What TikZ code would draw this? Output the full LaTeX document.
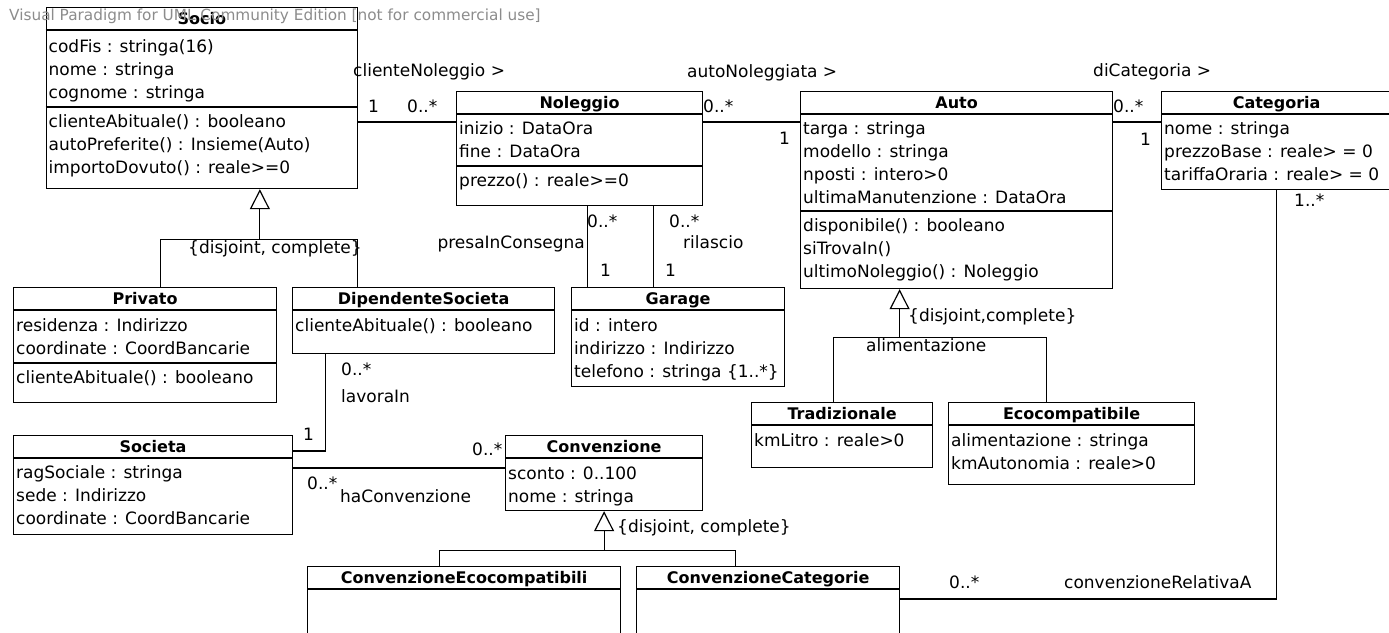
\documentclass[tikz,border=0pt]{standalone}
\usepackage{fontspec}
\setmainfont{DejaVu Sans}
\usetikzlibrary{arrows.meta,calc}

\tikzset{
  linea/.style={line width=1.2pt},
  scatola/.style={draw, linea, fill=white, anchor=north west, inner sep=0pt},
  titolo/.style={anchor=base, inner sep=0pt, font=\fontsize{16}{18}\selectfont\bfseries},
  voce/.style={anchor=base west, inner sep=0pt, font=\fontsize{17}{20}\selectfont},
  eredita/.style={-{Triangle[open,length=20pt,width=20pt]}},
}

% classe: nome, x, y, larghezza, altezza, titolo
\newcommand{\classe}[6]{%
  \node[scatola, minimum width=#4pt, minimum height=#5pt] (#1) at (#2,#3) {};
  \node[titolo] (#1-titolo) at ($(#1.north)+(0,17)$) {#6};
  \draw[linea] ($(#1.north west)+(0,23)$) -- ($(#1.north east)+(0,23)$);
}
% separatore tra attributi e operazioni
\newcommand{\separa}[2]{%
  \draw[linea] ($(#1.north west)+(0,#2)$) -- ($(#1.north east)+(0,#2)$);
}
% righe di testo: nodo, prefisso, prima linea di base, lista
\newcommand{\voci}[4]{%
  \foreach \testo [count=\i from 0] in {#4}
    \node[voce] (#1-#2\i) at ($(#1.north west)+(3,#3+23*\i)$) {\testo};
}

\begin{document}
\begin{tikzpicture}[x=1pt, y=-1pt]
\useasboundingbox (0,0) rectangle (1389,632);

% Socio
\classe{Socio}{45.5}{7}{311.5}{181}{Socio}
\voci{Socio}{a}{45}{codFis : stringa(16), nome : stringa, cognome : stringa}
\separa{Socio}{100}
\voci{Socio}{o}{120}{clienteAbituale() : booleano, autoPreferite() : Insieme(Auto), importoDovuto() : reale>=0}

% Noleggio
\classe{Noleggio}{456}{91}{246}{114}{Noleggio}
\voci{Noleggio}{a}{43}{inizio : DataOra, fine : DataOra}
\separa{Noleggio}{75}
\voci{Noleggio}{o}{95}{prezzo() : reale>=0}

% Auto
\classe{Auto}{800}{91}{312}{197}{Auto}
\voci{Auto}{a}{43}{targa : stringa, modello : stringa, nposti : intero>0, ultimaManutenzione : DataOra}
\separa{Auto}{120}
\voci{Auto}{o}{140}{disponibile() : booleano, siTrovaIn(), ultimoNoleggio() : Noleggio}

% Categoria
\classe{Categoria}{1161}{91}{230}{98}{Categoria}
\voci{Categoria}{a}{43}{nome : stringa, prezzoBase : reale> = 0, tariffaOraria : reale> = 0}

% Privato e DipendenteSocieta
\classe{Privato}{13}{287}{263}{115}{Privato}
\voci{Privato}{a}{44}{residenza : Indirizzo, coordinate : CoordBancarie}
\separa{Privato}{76}
\voci{Privato}{o}{96}{clienteAbituale() : booleano}
\classe{DipendenteSocieta}{292}{287}{262}{66}{DipendenteSocieta}
\voci{DipendenteSocieta}{o}{44}{clienteAbituale() : booleano}

% Garage
\classe{Garage}{571}{287}{213}{99}{Garage}
\voci{Garage}{a}{44}{id : intero, indirizzo : Indirizzo, telefono : stringa \{1..*\}}

% Tradizionale ed Ecocompatibile
\classe{Tradizionale}{751}{402}{181}{65}{Tradizionale}
\voci{Tradizionale}{a}{44}{kmLitro : reale>0}
\classe{Ecocompatibile}{948}{402}{246}{82}{Ecocompatibile}
\voci{Ecocompatibile}{a}{44}{alimentazione : stringa, kmAutonomia : reale>0}

% Societa e Convenzione
\classe{Societa}{13}{435}{279}{99}{Societa}
\voci{Societa}{a}{43}{ragSociale : stringa, sede : Indirizzo, coordinate : CoordBancarie}
\classe{Convenzione}{505}{435}{197}{75}{Convenzione}
\voci{Convenzione}{a}{44}{sconto : 0..100, nome : stringa}
\classe{ConvEco}{307}{566}{313}{70}{ConvenzioneEcocompatibili}
\classe{ConvCat}{636}{566}{263}{70}{ConvenzioneCategorie}

% associazioni in alto
\coordinate (n1) at ($(Noleggio.north west)+(0,31)$);
\draw[linea] (Socio.east |- n1) -- (n1);
\draw[linea] (Noleggio.east |- n1) -- (Auto.west |- n1);
\draw[linea] (Auto.east |- n1) -- (Categoria.west |- n1);
\node[voce] (cn) at (353,76) {clienteNoleggio >};
\node[voce] (cn1) at (368,112) {1};
\node[voce] (cn2) at (407,112) {0..*};
\node[voce] (an) at (687,77) {autoNoleggiata >};
\node[voce] (an1) at (703,112) {0..*};
\node[voce] (an2) at (779,144) {1};
\node[voce] (dc) at (1093,76) {diCategoria >};
\node[voce] (dc1) at (1113,112) {0..*};
\node[voce] (dc2) at (1140,145) {1};

% Noleggio - Garage
\draw[linea] ([xshift=8pt]Noleggio.south) -- ([xshift=8pt]Noleggio.south |- Garage.north);
\draw[linea] ([xshift=74pt]Noleggio.south) -- ([xshift=74pt]Noleggio.south |- Garage.north);
\node[voce] (pc1) at (587,227) {0..*};
\node[voce] (ri1) at (669,227) {0..*};
\node[voce, anchor=base east] (pc) at (585,248) {presaInConsegna};
\node[voce] (ri) at (683,248) {rilascio};
\node[voce] (pc2) at (600,276) {1};
\node[voce] (ri2) at (665,276) {1};

% generalizzazione Socio
\coordinate (gSocio) at ([xshift=58pt]Socio.south);
\draw[linea] ([xshift=15.5pt]Privato.north) |- ($(gSocio)+(0,50)$) -| ([xshift=-66pt]DipendenteSocieta.north);
\draw[linea, eredita] ($(gSocio)+(0,50)$) -- (gSocio);
\node[voce] (gs) at (188,253) {\{disjoint, complete\}};

% generalizzazione Auto
\coordinate (gAuto) at ([xshift=-57pt]Auto.south);
\draw[linea] ([xshift=-8.5pt]Tradizionale.north) |- ($(gAuto)+(0,48)$) -| ([xshift=-25pt]Ecocompatibile.north);
\draw[linea, eredita] ($(gAuto)+(0,48)$) -- (gAuto);
\node[voce] (ga) at (908,321) {\{disjoint,complete\}};
\node[voce] (al) at (866,351) {alimentazione};

% lavoraIn
\draw[linea] ([xshift=-98pt]DipendenteSocieta.south) |- ([yshift=-16pt]Societa.north east);
\node[voce] (li1) at (341,375) {0..*};
\node[voce] (li) at (341,402) {lavoraIn};
\node[voce] (li2) at (303,440) {1};

% haConvenzione
\draw[linea] ([yshift=-33pt]Societa.north east) -- ([yshift=-33pt]Convenzione.north west);
\node[voce] (hc1) at (472,455) {0..*};
\node[voce] (hc2) at (307,489) {0..*};
\node[voce] (hc) at (340,502) {haConvenzione};

% generalizzazione Convenzione
\coordinate (gConv) at (Convenzione.south);
\draw[linea] ([xshift=-24.5pt]ConvEco.north) |- ($(gConv)+(0,39)$) -| ([xshift=-32.5pt]ConvCat.north);
\draw[linea, eredita] ($(gConv)+(0,39)$) -- (gConv);
\node[voce] (gc) at (617,532) {\{disjoint, complete\}};

% convenzioneRelativaA
\draw[linea] ([yshift=-33pt]ConvCat.north east) -| (Categoria.south);
\node[voce] (cr1) at (949,588) {0..*};
\node[voce] (cr) at (1064,588) {convenzioneRelativaA};
\node[voce] (cr2) at (1294,206) {1..*};

% scritta in alto
\node[voce, font=\fontsize{15.3}{17}\selectfont, text=black!45] (vp) at (9,20) {Visual Paradigm for UML Community Edition [not for commercial use]};
\end{tikzpicture}
\end{document}
